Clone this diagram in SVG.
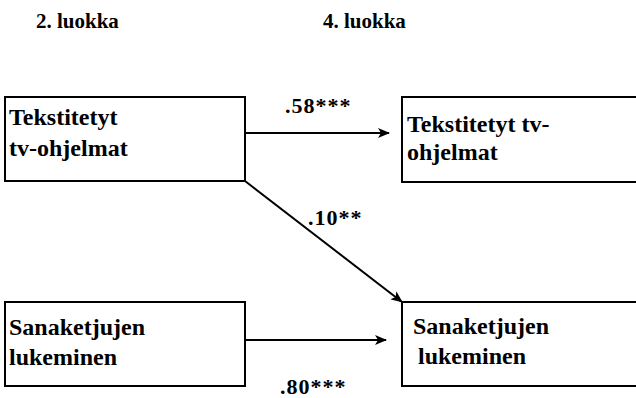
<svg xmlns="http://www.w3.org/2000/svg" width="636" height="398" viewBox="0 0 636 398">
<style>
text{font-family:"Liberation Serif","Times New Roman",serif;font-weight:bold;fill:#000}
.hd{font-size:21px}
.nt{font-size:24px}
.lb{font-size:22px;letter-spacing:1px}
rect{fill:#fff;stroke:#000;stroke-width:2}
.c line{stroke:#000;stroke-width:2}
</style>
<defs>
<marker id="ah" markerWidth="12" markerHeight="10" refX="11" refY="5" orient="auto" markerUnits="userSpaceOnUse">
<path d="M0,0 L12,5 L0,10 L3,5 Z" fill="#000"/>
</marker>
</defs>
<text class="hd" x="36" y="28">2. luokka</text>
<text class="hd" x="323" y="28">4. luokka</text>
<g id="n1"><rect x="5" y="97" width="240" height="84"/><text class="nt" x="9" y="125">Tekstitetyt</text><text class="nt" x="9" y="156">tv-ohjelmat</text></g>
<g id="n2"><rect x="402" y="97" width="240" height="85"/><text class="nt" x="407" y="132">Tekstitetyt tv-</text><text class="nt" x="407" y="160">ohjelmat</text></g>
<g id="n3"><rect x="5" y="302" width="240" height="84"/><text class="nt" x="9" y="335">Sanaketjujen</text><text class="nt" x="9" y="365">lukeminen</text></g>
<g id="n4"><rect x="402" y="302" width="240" height="84"/><text class="nt" x="413" y="334">Sanaketjujen</text><text class="nt" x="418" y="364">lukeminen</text></g>
<g class="c" id="connectors">
<line x1="245" y1="133" x2="389" y2="133" marker-end="url(#ah)"/>
<line x1="245" y1="181" x2="402" y2="302" marker-end="url(#ah)"/>
<line x1="245" y1="340" x2="386" y2="340" marker-end="url(#ah)"/>
<text class="lb" x="280" y="394">.80***</text>
<text class="lb" x="285" y="113">.58***</text>
<text class="lb" x="308" y="225">.10**</text>
</g>
</svg>
